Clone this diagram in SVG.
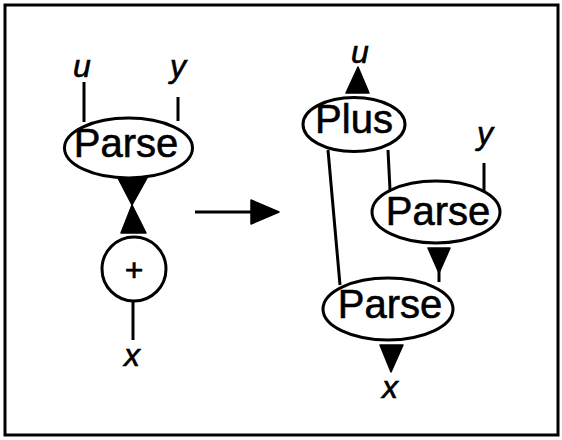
<svg xmlns="http://www.w3.org/2000/svg" width="562" height="440" viewBox="0 0 562 440">
<style>
.node{fill:#fff;stroke:#000;stroke-width:3}
.lbl{font-family:"Liberation Sans",Arial,sans-serif;font-size:40px;fill:#000;stroke:#000;stroke-width:0.6;text-anchor:middle}
.var{font-family:"Liberation Sans",Arial,sans-serif;font-size:32px;font-style:italic;fill:#000;stroke:#000;stroke-width:0.6;text-anchor:middle}
.ln{stroke:#000;stroke-width:3;fill:none}
.hd{fill:#000;stroke:#000;stroke-width:1.5;stroke-linejoin:round}
</style>
<rect x="0" y="0" width="562" height="440" fill="#fff"/>
<rect x="5" y="5" width="553" height="430" fill="none" stroke="#000" stroke-width="3"/>
<g id="connectors">
<line class="ln" x1="84" y1="82" x2="84" y2="122"/>
<line class="ln" x1="178" y1="97" x2="178" y2="121"/>
<polygon class="hd" points="118,178 147,178 132,205"/>
<polygon class="hd" points="132,205 121,233 146,233"/>
<line class="ln" x1="133" y1="301" x2="133" y2="340"/>
<line class="ln" x1="195" y1="212" x2="255" y2="212"/>
<polygon class="hd" points="251,200 251,224 279,212"/>
<polygon class="hd" points="358,67 346,93 369,93"/>
<line class="ln" x1="328" y1="150" x2="340" y2="285"/>
<line class="ln" x1="388" y1="150" x2="390" y2="190"/>
<line class="ln" x1="484" y1="163" x2="484" y2="191"/>
<polygon class="hd" points="428,248 450,248 439,273"/>
<line class="ln" x1="439" y1="270" x2="439" y2="282"/>
<polygon class="hd" points="380,345 403,345 391,372"/>
</g>
<g id="in-left">
<text class="var" x="82" y="77">u</text>
<text class="var" x="178" y="77">y</text>
<text class="var" x="132" y="366">x</text>
</g>
<g id="parse-left">
<ellipse class="node" cx="128.5" cy="148" rx="64" ry="30"/>
<text class="lbl" x="126" y="157">Parse</text>
</g>
<g id="plus-circle">
<circle class="node" cx="134" cy="269" r="32"/>
<text class="lbl" x="134" y="281" style="font-size:32px">+</text>
</g>
<g id="plus-node">
<ellipse class="node" cx="354" cy="124.5" rx="51" ry="27"/>
<text class="lbl" x="354" y="133">Plus</text>
</g>
<g id="parse-2">
<ellipse class="node" cx="436" cy="212" rx="64" ry="31"/>
<text class="lbl" x="438" y="225">Parse</text>
</g>
<g id="parse-3">
<ellipse class="node" cx="388" cy="309" rx="65" ry="31"/>
<text class="lbl" x="390" y="318">Parse</text>
</g>
<g id="out-right">
<text class="var" x="360" y="63">u</text>
<text class="var" x="485" y="144">y</text>
<text class="var" x="390" y="398">x</text>
</g>
</svg>
